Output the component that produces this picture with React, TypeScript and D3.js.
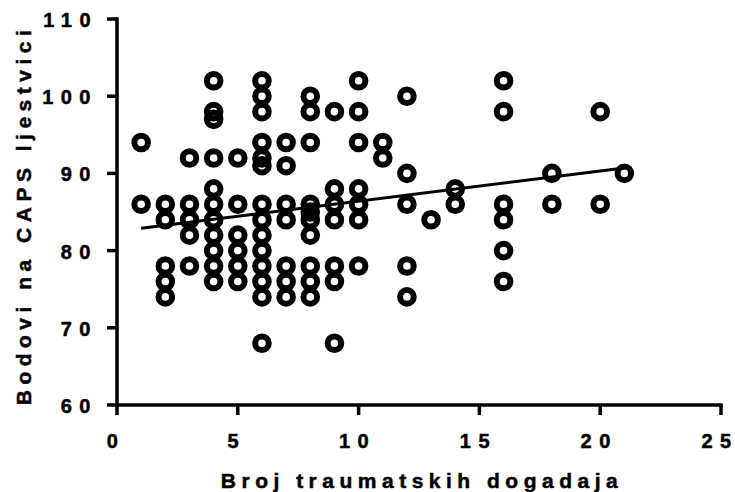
import React from 'react';
import * as d3 from 'd3';

const eventCounts = [1, 2, 3, 4, 5, 6, 7, 8, 9, 10, 11, 12, 13, 14, 16, 18, 20, 21];
const capsScores: number[][] = [
  [94, 86],
  [86, 84, 78, 76, 74],
  [92, 86, 84, 82, 78],
  [102, 98, 97, 92, 88, 86, 84, 82, 80, 78, 76],
  [92, 86, 82, 80, 78, 76],
  [102, 100, 98, 94, 92, 91, 86, 84, 82, 80, 78, 76, 74, 68],
  [94, 91, 86, 84, 78, 76, 74],
  [100, 98, 94, 86, 85, 84, 82, 78, 76, 74],
  [98, 88, 86, 84, 78, 76, 68],
  [102, 98, 94, 88, 86, 84, 78],
  [94, 92],
  [100, 90, 86, 78, 74],
  [84],
  [88, 86],
  [102, 98, 86, 84, 80, 76],
  [90, 86],
  [98, 86],
  [90],
];
const fitX = [1, 21];
const fitY = [82.9, 90.7];
const xTicks = [0, 5, 10, 15, 20, 25];
const yTicks = [60, 70, 80, 90, 100, 110];
const xTitle = 'Broj traumatskih dogadaja';
const yTitle = 'Bodovi na CAPS ljestvici';

const W = 735;
const H = 492;
const font = "'Liberation Sans', Arial, sans-serif";

export default function App() {
  const x = d3.scaleLinear().domain([0, 25]).range([117, 721]);
  const y = d3.scaleLinear().domain([60, 110]).range([405, 19]);
  const points: { ex: number; s: number }[] = [];
  eventCounts.forEach((ex, i) => capsScores[i].forEach((s) => points.push({ ex, s })));
  const line = d3
    .line<number>()
    .x((d) => x(d))
    .y((_, i) => y(fitY[i]));
  const tickLs = 7.5;
  const textStroke = { stroke: '#000', strokeWidth: 0.5 };
  return (
    <svg width={W} height={H} style={{ position: 'absolute', left: 0, top: 0, background: '#fff' }}>
      <rect width={W} height={H} fill="#fff" />
      {/* axes */}
      <line x1={x(0)} x2={x(0)} y1={y(110) - 1.75} y2={y(60) + 1.75} stroke="#000" strokeWidth={3.5} />
      <line x1={x(0)} x2={x(25) + 1.75} y1={y(60)} y2={y(60)} stroke="#000" strokeWidth={3.5} />
      {yTicks.map((t) => (
        <g key={'y' + t}>
          <line x1={x(0) - 10} x2={x(0)} y1={y(t)} y2={y(t)} stroke="#000" strokeWidth={3.5} />
          <text
            x={98}
            y={y(t) + 8}
            textAnchor="end"
            fontFamily={font}
            fontWeight="bold"
            fontSize={20}
            letterSpacing={tickLs}
            {...textStroke}
          >
            {t}
          </text>
        </g>
      ))}
      {xTicks.map((t) => (
        <g key={'x' + t}>
          <line x1={x(t)} x2={x(t)} y1={y(60)} y2={y(60) + 10} stroke="#000" strokeWidth={3.5} />
          <text
            x={x(t) - 1}
            y={448}
            textAnchor="middle"
            fontFamily={font}
            fontWeight="bold"
            fontSize={20}
            letterSpacing={tickLs}
            {...textStroke}
          >
            {t}
          </text>
        </g>
      ))}
      {/* regression line */}
      <path d={line(fitX) || ''} fill="none" stroke="#000" strokeWidth={3} />
      {/* points */}
      {points.map((p, i) => (
        <circle key={i} cx={x(p.ex)} cy={y(p.s)} r={6.8} fill="none" stroke="#000" strokeWidth={6} />
      ))}
      {/* titles */}
      <text
        x={(x(0) + x(25)) / 2 + 3}
        y={488}
        textAnchor="middle"
        fontFamily={font}
        fontWeight="bold"
        fontSize={21}
        letterSpacing={5.5}
        {...textStroke}
      >
        {xTitle}
      </text>
      <text
        transform={`translate(31, ${(y(60) + y(110)) / 2 + 3}) rotate(-90)`}
        textAnchor="middle"
        fontFamily={font}
        fontWeight="bold"
        fontSize={21}
        letterSpacing={5.5}
        {...textStroke}
      >
        {yTitle}
      </text>
    </svg>
  );
}
